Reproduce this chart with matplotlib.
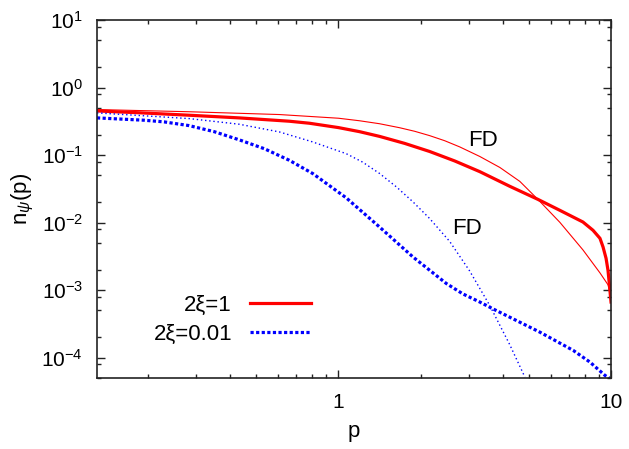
import matplotlib
matplotlib.use("Agg")
import matplotlib.pyplot as plt
from matplotlib.ticker import LogLocator, LogFormatterMathtext, NullFormatter, FixedLocator, FixedFormatter

plt.rcParams['font.family'] = ['Liberation Sans', 'DejaVu Sans']
plt.rcParams['mathtext.fontset'] = 'custom'
plt.rcParams['mathtext.rm'] = 'Liberation Sans'
plt.rcParams['mathtext.it'] = 'Liberation Sans:italic'

# 2xi = 1, full solution
p_red = [0.13, 0.1855, 0.283, 0.4325, 0.66, 0.782, 1.0, 1.195, 1.415, 1.748, 2.16, 2.67, 3.30,
         4.25, 5.39, 6.49, 7.89, 8.59, 9.11, 9.35, 9.59, 9.75, 9.87, 10.0]
n_red = [0.450, 0.423, 0.389, 0.355, 0.317, 0.296, 0.255, 0.222, 0.189, 0.149, 0.113, 0.0818,
         0.0568, 0.0345, 0.0221, 0.0152, 0.0102, 0.00769, 0.00585, 0.00435, 0.00296, 0.00196,
         0.00118, 0.000667]

# 2xi = 1, FD
p_red_fd = [0.13, 0.283, 0.607, 1.0, 1.195, 1.415, 1.676, 1.903, 2.16, 2.454, 2.786, 3.30, 3.91,
            4.63, 5.39, 6.49, 7.89, 9.11, 9.75, 10.0]
n_red_fd = [0.472, 0.438, 0.398, 0.351, 0.322, 0.291, 0.254, 0.225, 0.194, 0.163, 0.132, 0.0953,
            0.0655, 0.0407, 0.0221, 0.0101, 0.00394, 0.0018, 0.0012, 0.00078]

# 2xi = 0.01, full solution
p_blue = [0.13, 0.1935, 0.229, 0.283, 0.350, 0.4325, 0.535, 0.660, 0.805, 1.067, 1.415, 1.876,
          2.49, 2.86, 3.30, 3.69, 5.48, 7.27, 8.37, 9.5, 10.0]
n_blue = [0.355, 0.328, 0.310, 0.273, 0.222, 0.168, 0.124, 0.0837, 0.0532, 0.0233, 0.0086, 0.0031,
          0.00125, 0.00088, 0.000667, 0.000528, 0.000239, 0.000128, 0.000086, 0.0000547, 0.000048]

# 2xi = 0.01, FD
p_blue_fd = [0.13, 0.283, 0.4325, 0.607, 0.802, 1.067, 1.225, 1.415, 1.634, 1.876, 2.16, 2.56,
             3.03, 3.59, 4.25, 4.83]
n_blue_fd = [0.421, 0.347, 0.286, 0.220, 0.157, 0.105, 0.0788, 0.0534, 0.0336, 0.0203, 0.0115,
             0.00525, 0.00192, 0.000592, 0.000156, 0.0000516]

fig = plt.figure(figsize=(6.29, 4.49), dpi=100)
ax = fig.add_axes([0.1542, 0.1581, 0.8172, 0.7974])

ax.plot(p_red, n_red, color='#ff0000', lw=2.3, label='2ξ=1')
ax.plot(p_red_fd, n_red_fd, color='#ff0000', lw=0.8)
ax.plot(p_blue, n_blue, color='#0000ff', lw=2.3, linestyle=(0, (1, 0.75)), label='2ξ=0.01')
ax.plot(p_blue_fd, n_blue_fd, color='#0000ff', lw=1.0, linestyle=(0, (1, 2)))

ax.set_xscale('log')
ax.set_yscale('log')
ax.set_xlim(0.13, 10)
ax.set_ylim(5e-5, 10)

ax.xaxis.set_major_locator(FixedLocator([1, 10]))
ax.xaxis.set_major_formatter(FixedFormatter(['1', '10']))
ax.xaxis.set_minor_locator(LogLocator(base=10, subs=range(2, 10)))
ax.xaxis.set_minor_formatter(NullFormatter())
ax.yaxis.set_major_locator(LogLocator(base=10, numticks=20))
ax.yaxis.set_major_formatter(LogFormatterMathtext())
ax.yaxis.set_minor_locator(LogLocator(base=10, subs=[2, 5, 8], numticks=20))
ax.yaxis.set_minor_formatter(NullFormatter())

ax.tick_params(which='both', direction='in', top=True, right=True, color='#222222')
ax.tick_params(which='major', length=6, width=1, pad=10, labelsize=15)
ax.tick_params(which='minor', length=3, width=1)
ax.tick_params(axis='x', which='major', pad=11)
for s in ax.spines.values():
    s.set_linewidth(1.2)
    s.set_color('#222222')

ax.set_xlabel('p', fontsize=16, labelpad=6)
ax.set_ylabel(r'n$_\psi$(p)', fontsize=16, labelpad=4)

ax.text(483, 309, 'FD', transform=None, fontsize=16, ha='center', va='center')
ax.text(467, 220, 'FD', transform=None, fontsize=16, ha='center', va='center')

ax.legend(loc='upper right', bbox_to_anchor=(311 / 629, 1 - 295 / 449), bbox_transform=fig.transFigure,
          frameon=False, markerfirst=False, handlelength=2.75, handletextpad=0.8,
          borderpad=0, borderaxespad=0, labelspacing=0.36, fontsize=16)

fig.savefig('out.png', dpi=100)
